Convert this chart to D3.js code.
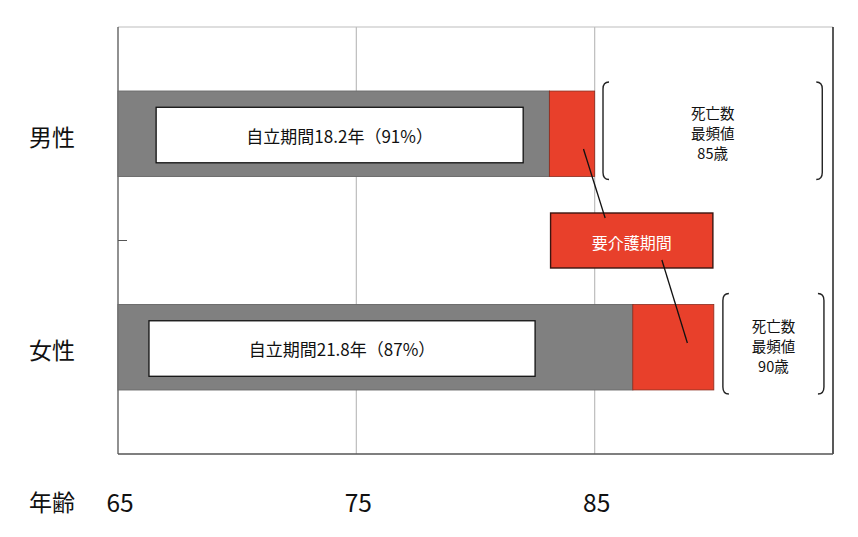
<!DOCTYPE html>
<html><head><meta charset="utf-8">
<script src="https://cdn.jsdelivr.net/npm/d3@7"></script>
<style>
body{margin:0;background:#fff;}
text{font-family:"Noto Sans CJK JP","Noto Sans",sans-serif;}
</style></head>
<body><svg id="c" width="858" height="537"></svg>
<script>
const categories = ["男性", "女性"];
const independentEnd = [83.1, 86.6];   // age at end of 自立期間
const deathMode = [85, 90];             // 死亡数最頻値
const independentLabels = ["自立期間18.2年（91%）", "自立期間21.8年（87%）"];
const modeLabels = [["死亡数","最頻値","85歳"], ["死亡数","最頻値","90歳"]];
const xTicks = [65, 75, 85];
const careLabel = "要介護期間";

const svg = d3.select("#c");
const W = 858, H = 537;
const m = {l:118, r:25, t:27, b:83};
const x = d3.scaleLinear().domain([65, 95]).range([m.l, W - m.r]);
const y = d3.scaleBand().domain(categories).range([m.t, H - m.b]).paddingInner(0).paddingOuter(0);
const barH = y.bandwidth() * 0.4;
const red = "#E8402B", gray = "#808080";

// gridlines
svg.append("g").selectAll("line").data(xTicks.slice(1)).join("line")
  .attr("x1", d => x(d)).attr("x2", d => x(d))
  .attr("y1", m.t).attr("y2", H - m.b)
  .attr("stroke", "#bdbdbd").attr("stroke-width", 1.2);

// frame
svg.append("line").attr("x1", m.l).attr("x2", W - m.r).attr("y1", m.t).attr("y2", m.t).attr("stroke", "#bdbdbd").attr("stroke-width",1.2);
svg.append("line").attr("x1", W - m.r).attr("x2", W - m.r).attr("y1", m.t).attr("y2", H - m.b).attr("stroke", "#222").attr("stroke-width",1.5);
svg.append("line").attr("x1", m.l).attr("x2", m.l).attr("y1", m.t).attr("y2", H - m.b).attr("stroke", "#555").attr("stroke-width",1.3);
svg.append("line").attr("x1", m.l).attr("x2", W - m.r).attr("y1", H - m.b).attr("y2", H - m.b).attr("stroke", "#555").attr("stroke-width",1.3);
// category separator tick
svg.append("line").attr("x1", m.l).attr("x2", m.l + 9)
  .attr("y1", y(categories[1])).attr("y2", y(categories[1])).attr("stroke", "#555").attr("stroke-width",1);

const rows = categories.map((c, i) => ({c, i, end: independentEnd[i], mode: deathMode[i]}));
const barY = d => y(d.c) + (y.bandwidth() - barH) / 2;

// gray bars
svg.append("g").selectAll("rect").data(rows).join("rect")
  .attr("x", x(65)).attr("y", barY)
  .attr("width", d => x(d.end) - x(65)).attr("height", barH)
  .attr("fill", gray).attr("stroke", "#6a6a6a").attr("stroke-width", 1);
// red bars
svg.append("g").selectAll("rect").data(rows).join("rect")
  .attr("x", d => x(d.end)).attr("y", barY)
  .attr("width", d => x(d.mode) - x(d.end)).attr("height", barH)
  .attr("fill", red).attr("stroke", "#8a2a1c").attr("stroke-width", 0.8);

// inner white label boxes
const boxL = [66.6, 66.3], boxR = [82.0, 82.5];
svg.append("g").selectAll("rect").data(rows).join("rect")
  .attr("x", d => x(boxL[d.i])).attr("y", d => barY(d) + barH * 0.19)
  .attr("width", d => x(boxR[d.i]) - x(boxL[d.i])).attr("height", barH * 0.65)
  .attr("fill", "#fff").attr("stroke", "#111").attr("stroke-width", 1.3);
svg.append("g").selectAll("text").data(rows).join("text")
  .attr("x", d => (x(boxL[d.i]) + x(boxR[d.i])) / 2)
  .attr("y", d => barY(d) + barH * 0.515)
  .attr("text-anchor", "middle").attr("dominant-baseline", "central")
  .attr("font-size", 17).attr("fill", "#111")
  .text(d => independentLabels[d.i]);

// category labels
svg.append("g").selectAll("text").data(categories).join("text")
  .attr("x", 52).attr("y", d => y(d) + y.bandwidth() / 2 + 2)
  .attr("text-anchor", "middle").attr("dominant-baseline", "central")
  .attr("font-size", 23).attr("fill", "#111").text(d => d);

// x tick labels
svg.append("g").selectAll("text").data(xTicks).join("text")
  .attr("x", d => x(d) + 2).attr("y", 501)
  .attr("text-anchor", "middle").attr("dominant-baseline", "central")
  .attr("font-family", "Liberation Sans, Arial, sans-serif")
  .attr("font-size", 24.5).attr("fill", "#111").text(d => d);
svg.append("text").attr("x", 52).attr("y", 501)
  .attr("text-anchor", "middle").attr("dominant-baseline", "central")
  .attr("font-size", 23).attr("fill", "#111").text("年齢");

// brackets with death mode labels
const brL = [85.35, 90.38], brR = [94.55, 94.62];
const brExt = [9, 11];
function bracket(xx, y0, y1, dir) {
  const p = d3.path();
  const r = 6 * dir;
  p.moveTo(xx + r, y0);
  p.quadraticCurveTo(xx, y0, xx, y0 + 7);
  p.lineTo(xx, y1 - 7);
  p.quadraticCurveTo(xx, y1, xx + r, y1);
  return p.toString();
}
rows.forEach(d => {
  const y0 = barY(d) - brExt[d.i], y1 = barY(d) + barH + (d.i === 0 ? 3 : 4);
  svg.append("path").attr("d", bracket(x(brL[d.i]), y0, y1, 1))
    .attr("fill", "none").attr("stroke", "#222").attr("stroke-width", 1.4);
  svg.append("path").attr("d", bracket(x(brR[d.i]), y0, y1, -1))
    .attr("fill", "none").attr("stroke", "#222").attr("stroke-width", 1.4);
  const cx = (x(brL[d.i]) + x(brR[d.i])) / 2;
  const cy = (y0 + y1) / 2 + 1.5;
  svg.append("g").selectAll("text").data(modeLabels[d.i]).join("text")
    .attr("x", cx).attr("y", (t, k) => cy + (k - 1) * 20)
    .attr("text-anchor", "middle").attr("dominant-baseline", "central")
    .attr("font-size", 14.5).attr("fill", "#111").text(t => t);
});

// 要介護期間 callout
const cb = {x0: 83.15, x1: 89.96, yc: y(categories[1]), h: 55};
svg.append("rect").attr("x", x(cb.x0)).attr("y", cb.yc - cb.h / 2)
  .attr("width", x(cb.x1) - x(cb.x0)).attr("height", cb.h)
  .attr("fill", red).attr("stroke", "#3a1510").attr("stroke-width", 1.4);
svg.append("text").attr("x", (x(cb.x0) + x(cb.x1)) / 2).attr("y", cb.yc + 1)
  .attr("text-anchor", "middle").attr("dominant-baseline", "central")
  .attr("font-size", 16).attr("fill", "#fff").text(careLabel);
// connectors
const conns = [
  {ax: 84.53, ay: 149, bx: 85.44, by: 218},
  {ax: 87.82, ay: 260, bx: 88.89, by: 343}
];
svg.append("g").selectAll("line").data(conns).join("line")
  .attr("x1", d => x(d.ax)).attr("y1", d => d.ay)
  .attr("x2", d => x(d.bx)).attr("y2", d => d.by)
  .attr("stroke", "#111").attr("stroke-width", 1.3);
</script></body></html>
